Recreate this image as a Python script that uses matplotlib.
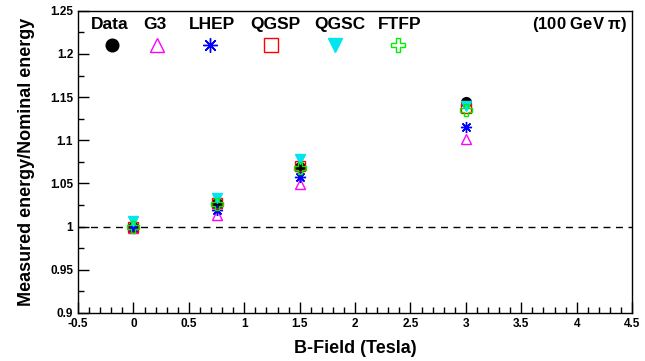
import matplotlib
matplotlib.use('Agg')
import matplotlib.pyplot as plt

plt.rcParams['font.family'] = ['Liberation Sans', 'DejaVu Sans']
plt.rcParams['font.weight'] = 'bold'

# B-field values (Tesla)
bfield = [0.0, 0.75, 1.5, 3.0]

# measured / nominal energy, per sample
data_vals = [1.000, 1.0275, 1.069, 1.144]
g3_vals = [0.998, 1.014, 1.049, 1.101]
lhep_vals = [0.999, 1.019, 1.058, 1.115]
qgsp_vals = [1.000, 1.027, 1.070, 1.137]
qgsc_vals = [1.007, 1.033, 1.078, 1.140]
ftfp_vals = [1.000, 1.026, 1.068, 1.135]

names = ['Data', 'G3', 'LHEP', 'QGSP', 'QGSC', 'FTFP']
series = [data_vals, g3_vals, lhep_vals, qgsp_vals, qgsc_vals, ftfp_vals]

xticks = [-0.5, 0, 0.5, 1, 1.5, 2, 2.5, 3, 3.5, 4, 4.5]
xtick_labels = ['-0.5', '0', '0.5', '1', '1.5', '2', '2.5', '3', '3.5', '4', '4.5']
yticks = [0.9, 0.95, 1.0, 1.05, 1.1, 1.15, 1.2, 1.25]
ytick_labels = ['0.9', '0.95', '1', '1.05', '1.1', '1.15', '1.2', '1.25']

# marker styles: (marker, colour, filled, size)
styles = [
    ('o', '#000000', True, 7),
    ('^', '#ff00ff', False, 7.5),
    ((8, 2, 0), '#0000ff', False, 8),
    ('s', '#ff0000', False, 7.5),
    ('v', '#00e5ee', True, 7.5),
    ('P', '#00ee00', False, 8),
]

# legend positions (axes fraction)
label_x = [0.058, 0.139, 0.242, 0.356, 0.473, 0.581]
marker_x = [0.061, 0.142, 0.238, 0.348, 0.464, 0.578]

fig = plt.figure(figsize=(6.45, 3.61), dpi=100)
ax = fig.add_axes([0.121, 0.133, 0.859, 0.837])

ax.plot([-0.5, 4.5], [1.0, 1.0], color='black', linestyle=(0, (5, 4)), linewidth=1)

for (mk, col, filled, ms), vals, lx, mx, name in zip(styles, series, label_x, marker_x, names):
    fc = col if filled else 'none'
    ax.plot(bfield, vals, linestyle='none', marker=mk, markersize=ms,
            markerfacecolor=fc, markeredgecolor=col, markeredgewidth=1.0)
    ax.text(lx, 0.954, name, transform=ax.transAxes, ha='center', va='center',
            fontsize=12.5, fontweight='bold')
    ax.plot([mx], [0.887], transform=ax.transAxes, linestyle='none', marker=mk,
            markersize=ms * 1.3, markerfacecolor=fc, markeredgecolor=col,
            markeredgewidth=1.0, clip_on=False)

ax.text(0.991, 0.954, '(100 GeV $\\mathregular{\\pi}$)', transform=ax.transAxes,
        ha='right', va='center', fontsize=12, fontweight='bold')

ax.set_xlim(-0.5, 4.5)
ax.set_ylim(0.9, 1.25)
ax.set_xticks(xticks)
ax.set_xticklabels(xtick_labels)
ax.set_yticks(yticks)
ax.set_yticklabels(ytick_labels)
ax.set_xticks([-0.5 + 0.1 * i for i in range(51)], minor=True)
ax.set_yticks([0.9 + 0.025 * i for i in range(15)], minor=True)
ax.tick_params(which='both', direction='in', top=False, right=False, width=1)
ax.tick_params(which='major', length=8, labelsize=8.5)
ax.tick_params(which='minor', length=4)
for lab in ax.get_xticklabels() + ax.get_yticklabels():
    lab.set_fontweight('bold')

ax.set_xlabel('B-Field (Tesla)', fontsize=13, fontweight='bold', labelpad=7)
ax.set_ylabel('Measured energy/Nominal energy', fontsize=13, fontweight='bold',
              labelpad=11)
for sp in ax.spines.values():
    sp.set_linewidth(1)

fig.savefig('out.png', dpi=100)
